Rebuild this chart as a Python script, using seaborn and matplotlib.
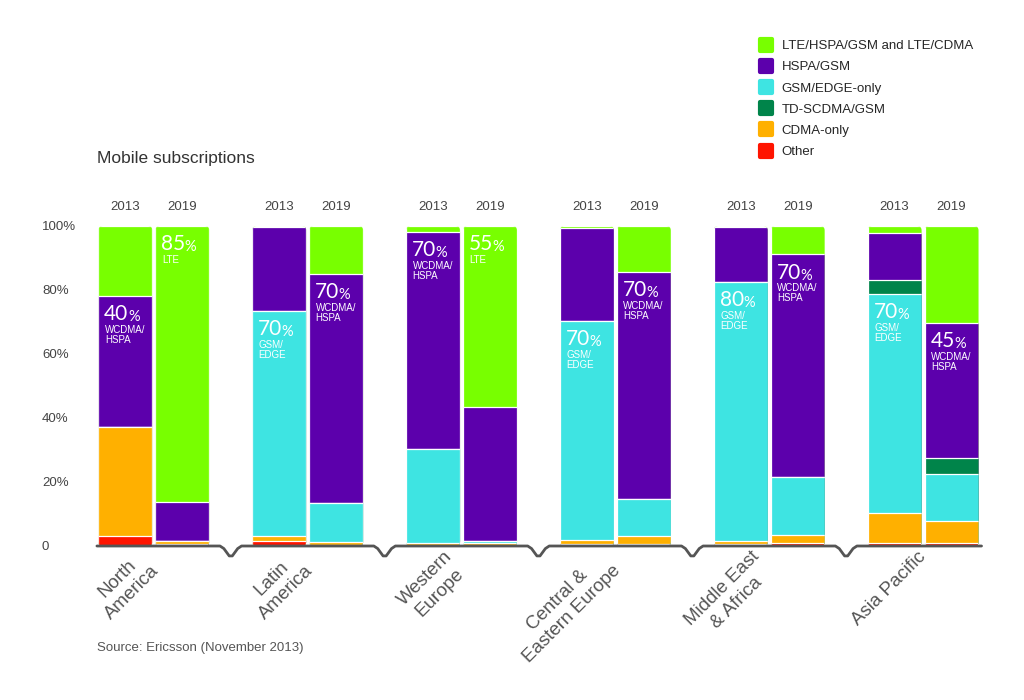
import numpy as np
import pandas as pd
import matplotlib
matplotlib.use('Agg')
import matplotlib.pyplot as plt
from matplotlib.lines import Line2D
from matplotlib.markers import MarkerStyle
from matplotlib.patches import FancyBboxPatch
import seaborn as sns

#%% data (share of mobile subscriptions, %)

regions = ["North\nAmerica", "Latin\nAmerica", "Western\nEurope",
           "Central &\nEastern Europe", "Middle East\n& Africa", "Asia Pacific"]
years = ["2013", "2019"]

lte_2013 = [21.9, 0.3, 1.8, 0.5, 0.2, 2.1]
hspa_2013 = [40.8, 26.3, 67.9, 29.2, 17.2, 14.8]
gsm_2013 = [0.0, 70.3, 29.5, 68.4, 80.9, 68.4]
td_2013 = [0.0, 0.0, 0.0, 0.0, 0.0, 4.3]
cdma_2013 = [34.3, 1.6, 0.5, 1.3, 1.1, 9.6]
other_2013 = [3.0, 1.5, 0.3, 0.6, 0.6, 0.8]

lte_2019 = [86.2, 15.0, 56.5, 14.4, 8.9, 30.2]
hspa_2019 = [12.3, 71.6, 42.0, 70.9, 69.4, 42.4]
gsm_2019 = [0.0, 12.2, 0.6, 11.5, 18.3, 14.7]
td_2019 = [0.0, 0.0, 0.0, 0.0, 0.0, 4.8]
cdma_2019 = [1.0, 0.9, 0.6, 2.6, 2.6, 7.1]
other_2019 = [0.5, 0.3, 0.3, 0.6, 0.8, 0.8]

# in-bar callouts: region, year, technology, big number, small text
notes = [
    (0, "2013", "HSPA/GSM", "40", "WCDMA/\nHSPA"),
    (0, "2019", "LTE/HSPA/GSM and LTE/CDMA", "85", "LTE"),
    (1, "2013", "GSM/EDGE-only", "70", "GSM/\nEDGE"),
    (1, "2019", "HSPA/GSM", "70", "WCDMA/\nHSPA"),
    (2, "2013", "HSPA/GSM", "70", "WCDMA/\nHSPA"),
    (2, "2019", "LTE/HSPA/GSM and LTE/CDMA", "55", "LTE"),
    (3, "2013", "GSM/EDGE-only", "70", "GSM/\nEDGE"),
    (3, "2019", "HSPA/GSM", "70", "WCDMA/\nHSPA"),
    (4, "2013", "GSM/EDGE-only", "80", "GSM/\nEDGE"),
    (4, "2019", "HSPA/GSM", "70", "WCDMA/\nHSPA"),
    (5, "2013", "GSM/EDGE-only", "70", "GSM/\nEDGE"),
    (5, "2019", "HSPA/GSM", "45", "WCDMA/\nHSPA"),
]

#%% styles

colors = {}
colors["LTE/HSPA/GSM and LTE/CDMA"] = '#78ff00'
colors["HSPA/GSM"] = '#5c00ac'
colors["GSM/EDGE-only"] = '#3ee4e2'
colors["TD-SCDMA/GSM"] = '#00844a'
colors["CDMA-only"] = '#ffb000'
colors["Other"] = '#ff1400'

# bottom -> top
stack = ["Other", "CDMA-only", "GSM/EDGE-only", "TD-SCDMA/GSM", "HSPA/GSM",
         "LTE/HSPA/GSM and LTE/CDMA"]
legend_order = ["LTE/HSPA/GSM and LTE/CDMA", "HSPA/GSM", "GSM/EDGE-only",
                "TD-SCDMA/GSM", "CDMA-only", "Other"]

df = pd.DataFrame({"region": regions * 2, "year": ["2013"] * 6 + ["2019"] * 6})
df["Other"] = other_2013 + other_2019
df["CDMA-only"] = cdma_2013 + cdma_2019
df["GSM/EDGE-only"] = gsm_2013 + gsm_2019
df["TD-SCDMA/GSM"] = td_2013 + td_2019
df["HSPA/GSM"] = hspa_2013 + hspa_2019
df["LTE/HSPA/GSM and LTE/CDMA"] = lte_2013 + lte_2019
cum = df[stack].cumsum(axis=1)

sns.set_theme(style='white')
plt.rcParams['font.family'] = ['Liberation Sans', 'DejaVu Sans']

fig = plt.figure(figsize=(10.24, 7), dpi=100)
ax = fig.add_axes([80 / 1024, 154 / 700, 920 / 1024, 320 / 700])

width = 0.74
gap = 0.05
for cat in reversed(stack):
    sns.barplot(x=df["region"], y=cum[cat], hue=df["year"], order=regions,
                hue_order=years, palette=[colors[cat]] * 2, saturation=1,
                width=width, gap=gap, dodge=True, errorbar=None,
                edgecolor='white', linewidth=0.9, legend=False, ax=ax)

ax.set_xlim(-0.48, 5.5)
ax.set_ylim(0, 100)
sns.despine(ax=ax, left=True, bottom=True)
ax.set_xlabel('')
ax.set_ylabel('')
ax.set_xticks([])
ax.set_yticks([0, 20, 40, 60, 80, 100])
ax.set_yticklabels(["0", "20%", "40%", "60%", "80%", "100%"], fontsize=9.5, color='#444')
ax.tick_params(axis='y', length=0, pad=27.4)
for lab in ax.get_yticklabels():
    lab.set_horizontalalignment('left')

half = width / 4
bw = width / 2 * (1 - gap)
offs = {"2013": -half, "2019": half}

# rounded bar ends: clip every segment to a rounded column shape
columns = []
for i in range(len(regions)):
    for y in years:
        left = i + offs[y] - bw / 2
        clip = FancyBboxPatch((left, 0), bw, 100,
                              boxstyle="round,pad=0,rounding_size=0.03",
                              mutation_aspect=48, transform=ax.transData)
        columns.append((i + offs[y], clip))
for p in ax.patches:
    cx = p.get_x() + p.get_width() / 2
    for c, clip in columns:
        if abs(cx - c) < 0.05:
            p.set_clip_path(clip)

# year labels above bars
for i in range(len(regions)):
    for y in years:
        ax.text(i + offs[y], 106.0, y, ha='center', va='center', fontsize=9.5,
                color='#444', clip_on=False)

# notched baseline
bx = [-0.37]
by = [0]
for i in range(len(regions) - 1):
    m = i + 0.5
    bx += [m - 0.07, m - 0.045, m - 0.01, m + 0.01, m + 0.045, m + 0.07]
    by += [0, -0.8, -3.1, -3.1, -0.8, 0]
bx.append(5.38)
by.append(0)
ax.plot(bx, by, color='#555555', lw=2, clip_on=False, zorder=5, solid_joinstyle='round')

# region labels
lab_shift = [-0.117] * 5 + [-0.04]
for i, r in enumerate(regions):
    ax.text(i + lab_shift[i], -0.6, r, rotation=45, rotation_mode='anchor',
            ha='right', va='top', multialignment='center', fontsize=13.5,
            linespacing=1.25, color='#555555', clip_on=False)

# in-bar callouts
for i, y, cat, big, small in notes:
    left = i + offs[y] - bw / 2 + 0.038
    top = cum.loc[(df["region"] == regions[i]) & (df["year"] == y), cat].iloc[0]
    t = ax.text(left, top - 2.6, big, ha='left', va='top', fontsize=15,
                color='white', family=['Lato', 'DejaVu Sans'], zorder=6)
    ax.annotate('%', xy=(1, 0), xycoords=t, xytext=(-0.3, 0), textcoords='offset points',
                ha='left', va='bottom', fontsize=10.5, color='white',
                family=['Lato', 'DejaVu Sans'], zorder=6)
    ax.annotate(small, xy=(0, 0), xycoords=t, xytext=(0.5, -0.5), textcoords='offset points',
                ha='left', va='top', fontsize=7, color='white', linespacing=1.0, zorder=6)

fig.text(97 / 1024, 1 - 158 / 700, "Mobile subscriptions", ha='left', va='center',
         fontsize=12.5, color='#333333')
fig.text(97 / 1024, 1 - 648 / 700, "Source: Ericsson (November 2013)", ha='left',
         va='center', fontsize=9.5, color='#555555')

handles = [Line2D([0], [0], marker=MarkerStyle('s', joinstyle='round'), linestyle='none',
                  markersize=8, markeredgewidth=3,
                  markerfacecolor=colors[c], markeredgecolor=colors[c]) for c in legend_order]
fig.legend(handles, legend_order, loc='upper left', bbox_to_anchor=(758 / 1024, 1 - 40 / 700),
           frameon=False, fontsize=9.5, handlelength=1.2, handletextpad=0.6,
           labelspacing=0.68, borderaxespad=0, borderpad=0)

fig.savefig('out.png', dpi=100)
